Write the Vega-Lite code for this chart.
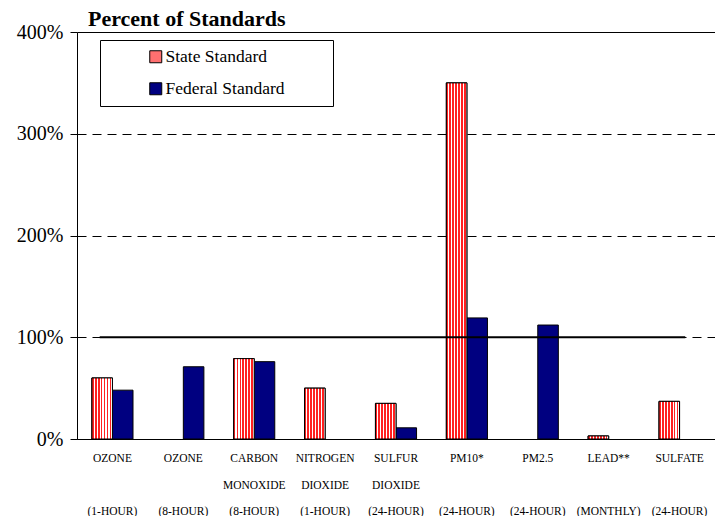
{
  "$schema": "https://vega.github.io/schema/vega-lite/v6.json",
  "autosize": {"type": "none"},
  "padding": {"left": 77, "top": 32, "right": 0, "bottom": 77},
  "width": 638,
  "height": 407,
  "title": {
    "text": "Percent of Standards",
    "anchor": "start",
    "frame": "group",
    "dx": 11,
    "dy": 26,
    "offset": 0,
    "baseline": "alphabetic",
    "font": "'Times New Roman', 'Liberation Serif', serif",
    "fontSize": 22,
    "fontWeight": "bold",
    "color": "black"
  },
  "config": {
    "font": "'Times New Roman', 'Liberation Serif', serif",
    "view": {"stroke": null},
    "background": "white"
  },
  "datasets": {
    "bars": [
      {"pollutant": "OZONE||(1-HOUR)", "standard": "State Standard", "pct": 60},
      {"pollutant": "OZONE||(1-HOUR)", "standard": "Federal Standard", "pct": 48},
      {"pollutant": "OZONE||(8-HOUR)", "standard": "Federal Standard", "pct": 71},
      {"pollutant": "CARBON|MONOXIDE|(8-HOUR)", "standard": "State Standard", "pct": 79},
      {"pollutant": "CARBON|MONOXIDE|(8-HOUR)", "standard": "Federal Standard", "pct": 76},
      {"pollutant": "NITROGEN|DIOXIDE|(1-HOUR)", "standard": "State Standard", "pct": 50},
      {"pollutant": "SULFUR|DIOXIDE|(24-HOUR)", "standard": "State Standard", "pct": 35},
      {"pollutant": "SULFUR|DIOXIDE|(24-HOUR)", "standard": "Federal Standard", "pct": 11},
      {"pollutant": "PM10*||(24-HOUR)", "standard": "State Standard", "pct": 350},
      {"pollutant": "PM10*||(24-HOUR)", "standard": "Federal Standard", "pct": 119},
      {"pollutant": "PM2.5||(24-HOUR)", "standard": "Federal Standard", "pct": 112},
      {"pollutant": "LEAD**||(MONTHLY)", "standard": "State Standard", "pct": 3},
      {"pollutant": "SULFATE||(24-HOUR)", "standard": "State Standard", "pct": 37}
    ]
  },
  "layer": [
    {
      "data": {"name": "bars"},
      "mark": {"type": "bar", "stroke": "black", "strokeWidth": 1, "opacity": 1},
      "encoding": {
        "x": {
          "field": "pollutant",
          "type": "nominal",
          "sort": null,
          "scale": {
            "domain": ["OZONE||(1-HOUR)", "OZONE||(8-HOUR)", "CARBON|MONOXIDE|(8-HOUR)", "NITROGEN|DIOXIDE|(1-HOUR)", "SULFUR|DIOXIDE|(24-HOUR)", "PM10*||(24-HOUR)", "PM2.5||(24-HOUR)", "LEAD**||(MONTHLY)", "SULFATE||(24-HOUR)"],
            "paddingInner": 0.42,
            "paddingOuter": 0.21
          },
          "axis": {
            "title": null,
            "labelExpr": "split(replace(datum.label, '||', '|\u200b|'), '|')",
            "labelAngle": 0,
            "labelFont": "'Times New Roman', 'Liberation Serif', serif",
            "labelFontSize": 11.5,
            "labelColor": "black",
            "labelLineHeight": 26.5,
            "labelBaseline": "top",
            "labelPadding": 13.5,
            "labelLimit": 200,
            "ticks": false,
            "domainColor": "black",
            "domainWidth": 1,
            "grid": false
          }
        },
        "xOffset": {
          "field": "standard",
          "type": "nominal",
          "scale": {"domain": ["State Standard", "Federal Standard"], "paddingInner": 0, "paddingOuter": 0}
        },
        "y": {
          "field": "pct",
          "type": "quantitative",
          "scale": {"domain": [0, 400], "nice": false},
          "axis": {
            "title": null,
            "values": [0, 100, 200, 300, 400],
            "labelExpr": "datum.value + '%'",
            "labelFont": "'Times New Roman', 'Liberation Serif', serif",
            "labelFontSize": 20,
            "labelColor": "black",
            "labelPadding": 7,
            "tickSize": 7,
            "tickColor": "black",
            "domainColor": "black",
            "grid": true,
            "gridColor": "black",
            "gridWidth": 1,
            "gridDash": {"condition": {"test": "datum.value == 400", "value": []}, "value": [9, 6]}
          }
        },
        "color": {
          "field": "standard",
          "type": "nominal",
          "scale": {"domain": ["State Standard", "Federal Standard"], "range": ["#ff7070", "#000080"]},
          "legend": {
            "title": "\u00a0",
            "titleOrient": "right",
            "titlePadding": 40,
            "titleFontSize": 12,
            "orient": "none",
            "legendX": 23,
            "legendY": 8,
            "fillColor": "white",
            "strokeColor": "black",
            "padding": 8,
            "symbolOffset": 39,
            "symbolType": "square",
            "symbolSize": 144,
            "symbolOpacity": 1,
            "symbolStrokeColor": "black",
            "symbolStrokeWidth": 1,
            "labelFont": "'Times New Roman', 'Liberation Serif', serif",
            "labelFontSize": 17.5,
            "labelColor": "black",
            "labelOffset": 1,
            "rowPadding": 13,
            "labelLimit": 400
          }
        }
      }
    },
    {
      "data": {"name": "bars"},
      "transform": [{"filter": "datum.standard === 'State Standard'"}],
      "mark": {
        "type": "bar",
        "stroke": "black",
        "strokeWidth": 1,
        "fill": {
          "gradient": "linear",
          "x1": 0, "y1": 0, "x2": 1, "y2": 0,
          "stops": [
            {"offset": 0, "color": "#ff2020"}, {"offset": 0.085, "color": "#ff2020"},
            {"offset": 0.085, "color": "#ffffff"}, {"offset": 0.143, "color": "#ffffff"},
            {"offset": 0.143, "color": "#ff2020"}, {"offset": 0.228, "color": "#ff2020"},
            {"offset": 0.228, "color": "#ffffff"}, {"offset": 0.286, "color": "#ffffff"},
            {"offset": 0.286, "color": "#ff2020"}, {"offset": 0.371, "color": "#ff2020"},
            {"offset": 0.371, "color": "#ffffff"}, {"offset": 0.429, "color": "#ffffff"},
            {"offset": 0.429, "color": "#ff2020"}, {"offset": 0.514, "color": "#ff2020"},
            {"offset": 0.514, "color": "#ffffff"}, {"offset": 0.571, "color": "#ffffff"},
            {"offset": 0.571, "color": "#ff2020"}, {"offset": 0.657, "color": "#ff2020"},
            {"offset": 0.657, "color": "#ffffff"}, {"offset": 0.714, "color": "#ffffff"},
            {"offset": 0.714, "color": "#ff2020"}, {"offset": 0.8, "color": "#ff2020"},
            {"offset": 0.8, "color": "#ffffff"}, {"offset": 0.857, "color": "#ffffff"},
            {"offset": 0.857, "color": "#ff2020"}, {"offset": 0.943, "color": "#ff2020"},
            {"offset": 0.943, "color": "#ffffff"}, {"offset": 1, "color": "#ffffff"}
          ]
        }
      },
      "encoding": {
        "x": {
          "field": "pollutant",
          "type": "nominal",
          "sort": null,
          "scale": {
            "domain": ["OZONE||(1-HOUR)", "OZONE||(8-HOUR)", "CARBON|MONOXIDE|(8-HOUR)", "NITROGEN|DIOXIDE|(1-HOUR)", "SULFUR|DIOXIDE|(24-HOUR)", "PM10*||(24-HOUR)", "PM2.5||(24-HOUR)", "LEAD**||(MONTHLY)", "SULFATE||(24-HOUR)"],
            "paddingInner": 0.42,
            "paddingOuter": 0.21
          },
          "axis": null
        },
        "xOffset": {
          "field": "standard",
          "type": "nominal",
          "scale": {"domain": ["State Standard", "Federal Standard"], "paddingInner": 0, "paddingOuter": 0}
        },
        "y": {"field": "pct", "type": "quantitative"}
      }
    },
    {
      "data": {"values": [{"from": 0.32, "to": 8.58, "pct": 100}]},
      "mark": {"type": "rule", "color": "black", "strokeWidth": 2},
      "encoding": {
        "x": {"field": "from", "type": "quantitative", "scale": {"domain": [0, 9], "nice": false, "zero": false}, "axis": null},
        "x2": {"field": "to"},
        "y": {"field": "pct", "type": "quantitative"}
      }
    }
  ],
  "resolve": {"scale": {"x": "independent"}}
}
